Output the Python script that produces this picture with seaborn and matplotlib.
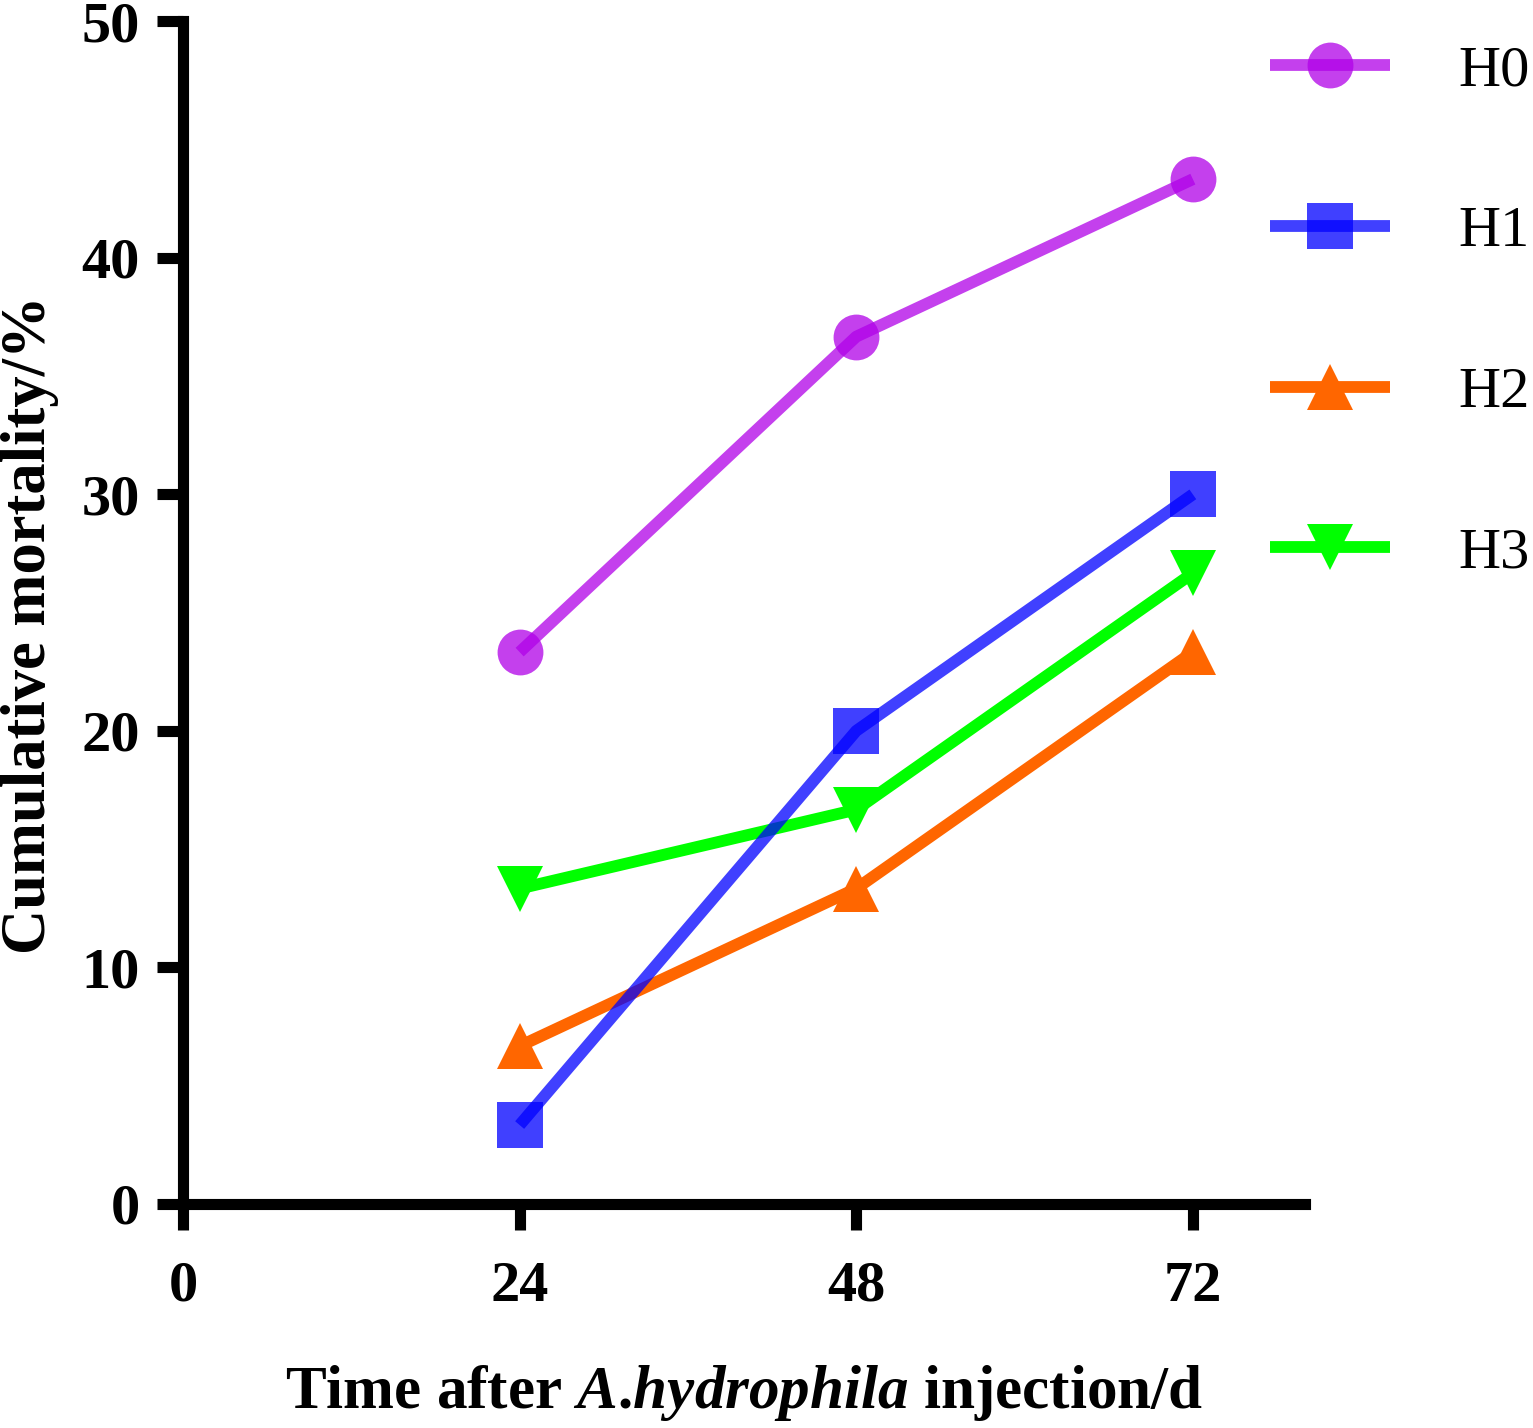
import matplotlib
matplotlib.use("Agg")
import matplotlib.pyplot as plt
import seaborn as sns
import pandas as pd

# =========================================
# DATA
# =========================================
TIME_POINTS = [24, 48, 72]
GROUPS = ["H0", "H1", "H2", "H3"]

H0_VALUES = [23.33, 36.67, 43.33]
H1_VALUES = [3.33, 20.0, 30.0]
H2_VALUES = [6.67, 13.33, 23.33]
H3_VALUES = [13.33, 16.67, 26.67]

X_TICKS = [0, 24, 48, 72]
Y_TICKS = [0, 10, 20, 30, 40, 50]

# =========================================
# STYLE
# =========================================
sns.set_style("ticks", {
    "axes.edgecolor": "black",
    "text.color": "black",
    "axes.labelcolor": "black",
    "xtick.color": "black",
    "ytick.color": "black",
})
plt.rcParams["font.family"] = ["Liberation Serif", "DejaVu Serif"]
plt.rcParams["mathtext.fontset"] = "custom"
plt.rcParams["mathtext.rm"] = "Liberation Serif:bold"
plt.rcParams["mathtext.it"] = "Liberation Serif:italic:bold"
plt.rcParams["mathtext.bf"] = "Liberation Serif:bold"

STYLES = {
    "H0": dict(color="#B000E8", marker="o", alpha=0.75, zorder=3),
    "H1": dict(color="#0000FF", marker="s", alpha=0.75, zorder=6),
    "H2": dict(color="#FF6600", marker="^", alpha=1.0, zorder=4),
    "H3": dict(color="#00FF00", marker="v", alpha=1.0, zorder=5),
}

df = pd.DataFrame({
    "time": TIME_POINTS * 4,
    "mortality": H0_VALUES + H1_VALUES + H2_VALUES + H3_VALUES,
    "group": [g for g in GROUPS for _ in TIME_POINTS],
})

fig = plt.figure(figsize=(15.33, 14.28), dpi=100)
ax = fig.add_axes([0.1194, 0.157, 0.7319, 0.828])

for g in GROUPS:
    st = STYLES[g]
    sub = df[df["group"] == g]
    sns.lineplot(
        data=sub, x="time", y="mortality", ax=ax,
        color=st["color"], marker=st["marker"], markersize=33,
        markeredgewidth=0, linewidth=8.5, alpha=st["alpha"],
        solid_capstyle="butt", zorder=st["zorder"], label=g,
        clip_on=False,
    )

ax.set_xlim(0, 80)
ax.set_ylim(0, 50)
ax.set_xticks(X_TICKS)
ax.set_yticks(Y_TICKS)

for side in ["top", "right"]:
    ax.spines[side].set_visible(False)
for side in ["left", "bottom"]:
    ax.spines[side].set_linewidth(8)
    ax.spines[side].set_capstyle("projecting")

ax.tick_params(axis="both", which="major", direction="out",
               length=19, width=8, labelsize=42, pad=12)
for lbl in ax.get_xticklabels() + ax.get_yticklabels():
    lbl.set_fontweight("bold")
ax.tick_params(axis="x", pad=22)

ax.set_xlabel(r"Time after $\mathit{A}$.$\mathit{hydrophila}$ injection/d",
              fontsize=44, fontweight="bold", labelpad=36)
ax.set_ylabel("Cumulative mortality/%", fontsize=45,
              fontweight="bold", labelpad=16)
ax.yaxis.label.set_y(0.49)

handles, labels = ax.get_legend_handles_labels()
ax.legend(handles, labels, loc="upper left", bbox_to_anchor=(0.8134, 0.985),
          bbox_transform=fig.transFigure, frameon=False, fontsize=42,
          handlelength=2.06, handletextpad=1.17, labelspacing=1.85,
          borderaxespad=0)

fig.savefig("out.png", dpi=100)
